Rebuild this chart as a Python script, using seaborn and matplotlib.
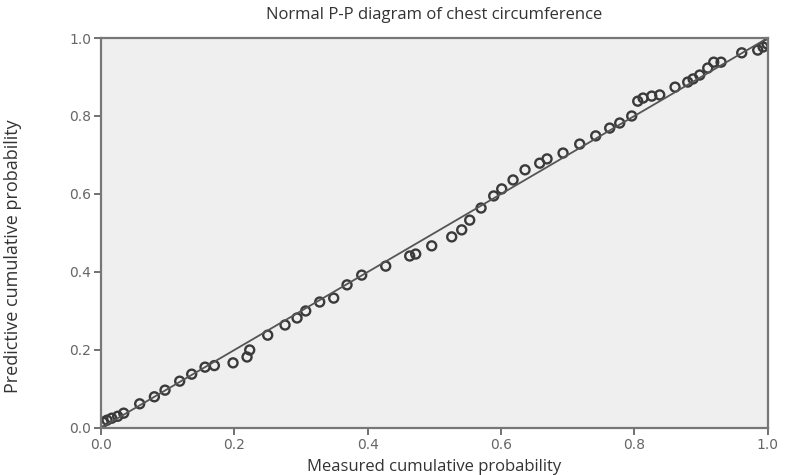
import numpy as np
import pandas as pd
import matplotlib
matplotlib.use("Agg")
import matplotlib.pyplot as plt
import seaborn as sns

# Observed (measured) vs expected (predictive) cumulative probability
measured = [0.003, 0.009, 0.016, 0.025, 0.034, 0.058, 0.080, 0.096, 0.118, 0.136,
            0.156, 0.170, 0.198, 0.219, 0.223, 0.250, 0.276, 0.294, 0.307, 0.328,
            0.349, 0.369, 0.391, 0.427, 0.463, 0.472, 0.496, 0.526, 0.541, 0.553,
            0.570, 0.589, 0.601, 0.618, 0.636, 0.658, 0.669, 0.693, 0.718, 0.742,
            0.763, 0.778, 0.796, 0.805, 0.813, 0.826, 0.838, 0.861, 0.880, 0.888,
            0.898, 0.910, 0.919, 0.930, 0.961, 0.985, 0.993, 0.999]
predicted = [0.015, 0.020, 0.025, 0.030, 0.038, 0.062, 0.080, 0.097, 0.120, 0.138,
             0.156, 0.160, 0.167, 0.182, 0.200, 0.238, 0.264, 0.282, 0.300, 0.323,
             0.333, 0.367, 0.392, 0.415, 0.441, 0.446, 0.467, 0.490, 0.508, 0.533,
             0.564, 0.595, 0.613, 0.636, 0.662, 0.679, 0.690, 0.705, 0.728, 0.749,
             0.769, 0.782, 0.800, 0.838, 0.846, 0.851, 0.854, 0.874, 0.887, 0.895,
             0.905, 0.923, 0.938, 0.938, 0.962, 0.969, 0.977, 0.985]
ref_line = [0.0, 1.0]
tick_values = [0.0, 0.2, 0.4, 0.6, 0.8, 1.0]

df = pd.DataFrame({"measured": measured, "predicted": predicted})

sns.set_style("ticks")
plt.rcParams["font.family"] = ["Open Sans", "DejaVu Sans"]

fig = plt.figure(figsize=(7.85, 4.75), dpi=100)
ax = fig.add_axes([0.1287, 0.099, 0.8493, 0.821])
ax.set_facecolor("#efefef")

sns.lineplot(x=ref_line, y=ref_line, ax=ax, color="#555555", linewidth=1.3)
sns.scatterplot(data=df, x="measured", y="predicted", ax=ax, marker="o",
                s=42, facecolor="none", edgecolor="#3a3a3a", linewidth=1.7)

ax.set_xlim(0, 1)
ax.set_ylim(0, 1)
ax.set_xticks(tick_values)
ax.set_yticks(tick_values)
ax.set_xticklabels([f"{v:.1f}" for v in tick_values], family="DejaVu Sans")
ax.set_yticklabels([f"{v:.1f}" for v in tick_values], family="DejaVu Sans")
ax.tick_params(colors="#666666", labelcolor="#666666", labelsize=10,
               length=5, width=1.3, direction="out", pad=2)

for side in ["left", "right", "top", "bottom"]:
    ax.spines[side].set_color("#777777")
    ax.spines[side].set_linewidth(1.6)

ax.set_title("Normal P-P diagram of chest circumference", fontsize=12,
             color="#333333", pad=14)
ax.set_xlabel("Measured cumulative probability", fontsize=12, color="#333333",
              labelpad=5)
ax.set_ylabel("Predictive cumulative probability", fontsize=13, color="#333333")
ax.yaxis.set_label_coords(-0.118, 0.44)

fig.savefig("out.png", dpi=100)
